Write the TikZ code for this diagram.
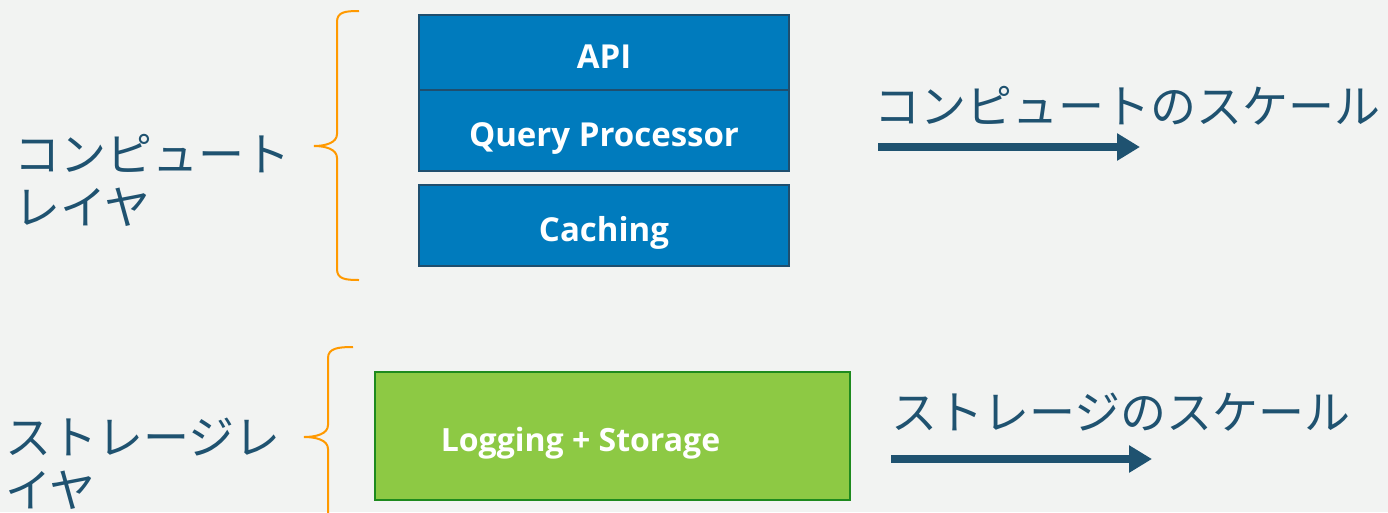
\documentclass[tikz,border=0pt]{standalone}
\usepackage{fontspec}
\newfontfamily\jp{Noto Sans CJK JP}
\newfontfamily\boxfont{Open Sans}
\usetikzlibrary{arrows.meta}
\definecolor{bg}{RGB}{242,243,242}
\definecolor{bluefill}{RGB}{0,123,189}
\definecolor{blueedge}{RGB}{31,78,110}
\definecolor{greenfill}{RGB}{141,201,68}
\definecolor{greenedge}{RGB}{30,138,30}
\definecolor{bracec}{RGB}{255,153,0}
\definecolor{ink}{RGB}{31,82,112}
\tikzset{
  boxtext/.style={text=white, inner sep=0pt, text height=31pt, text depth=0pt,
    font=\boxfont\bfseries\fontsize{33}{38}\selectfont},
  layerbox/.style={boxtext, draw=blueedge, line width=1.5pt, fill=bluefill, minimum width=370pt},
  storebox/.style={boxtext, draw=greenedge, line width=1.5pt, fill=greenfill,
    minimum width=475pt, minimum height=128pt, font=\boxfont\bfseries\fontsize{32}{38}\selectfont},
  jplabel/.style={text=ink, anchor=west, inner sep=0pt, align=left, font=\jp\fontsize{46}{53}\selectfont},
  bracepath/.style={draw=bracec, line width=2pt},
  scalearrow/.style={draw=ink, line width=8pt, -{Triangle[length=23pt,width=26pt]}}
}
\begin{document}
\begin{tikzpicture}[x=1pt,y=-1pt]
\useasboundingbox (0,0) rectangle (1388,512);
\fill[bg] (0,0) rectangle (1388,512);
% compute layer boxes
\node[layerbox, minimum height=75pt] (api) at (604,52.5) {API};
\node[layerbox, minimum height=81pt] (qp) at (604,130.5) {Query Processor};
\node[layerbox, minimum height=81pt] (cache) at (604,225.5) {Caching};
% storage box
\node[storebox] (store) at (612.5,436) {Logging + Storage\hspace*{64pt}};
% braces
\draw[bracepath] (359,11) .. controls (345,11) and (337,12) .. (337,22) -- (337,134)
  .. controls (337,143) and (325,146) .. (314,146)
  .. controls (325,146) and (337,149) .. (337,158) -- (337,269)
  .. controls (337,279) and (345,280) .. (359,280);
\begin{scope}
\clip (0,0) rectangle (1388,512);
\draw[bracepath] (353,347) .. controls (339,347) and (328,348) .. (328,358) -- (328,425)
  .. controls (328,434) and (316,437) .. (304,437)
  .. controls (316,437) and (328,440) .. (328,449) -- (328,516)
  .. controls (328,526) and (339,527) .. (353,527);
\end{scope}
% left labels
\node[jplabel] (clabel) at (14,180) {コンピュート\\レイヤ};
\node[jplabel] (slabel) at (5,464) {ストレージレ\\イヤ};
% right labels
\node[jplabel] (cscale) at (874,106) {コンピュートのスケール};
\node[jplabel] (sscale) at (891,412) {ストレージのスケール};
% arrows
\coordinate (ca1) at (878,147);
\coordinate (ca2) at (1140,147);
\coordinate (sa1) at (891,459);
\coordinate (sa2) at (1152,459);
\draw[scalearrow] (ca1) -- (ca2);
\draw[scalearrow] (sa1) -- (sa2);
\end{tikzpicture}
\end{document}
